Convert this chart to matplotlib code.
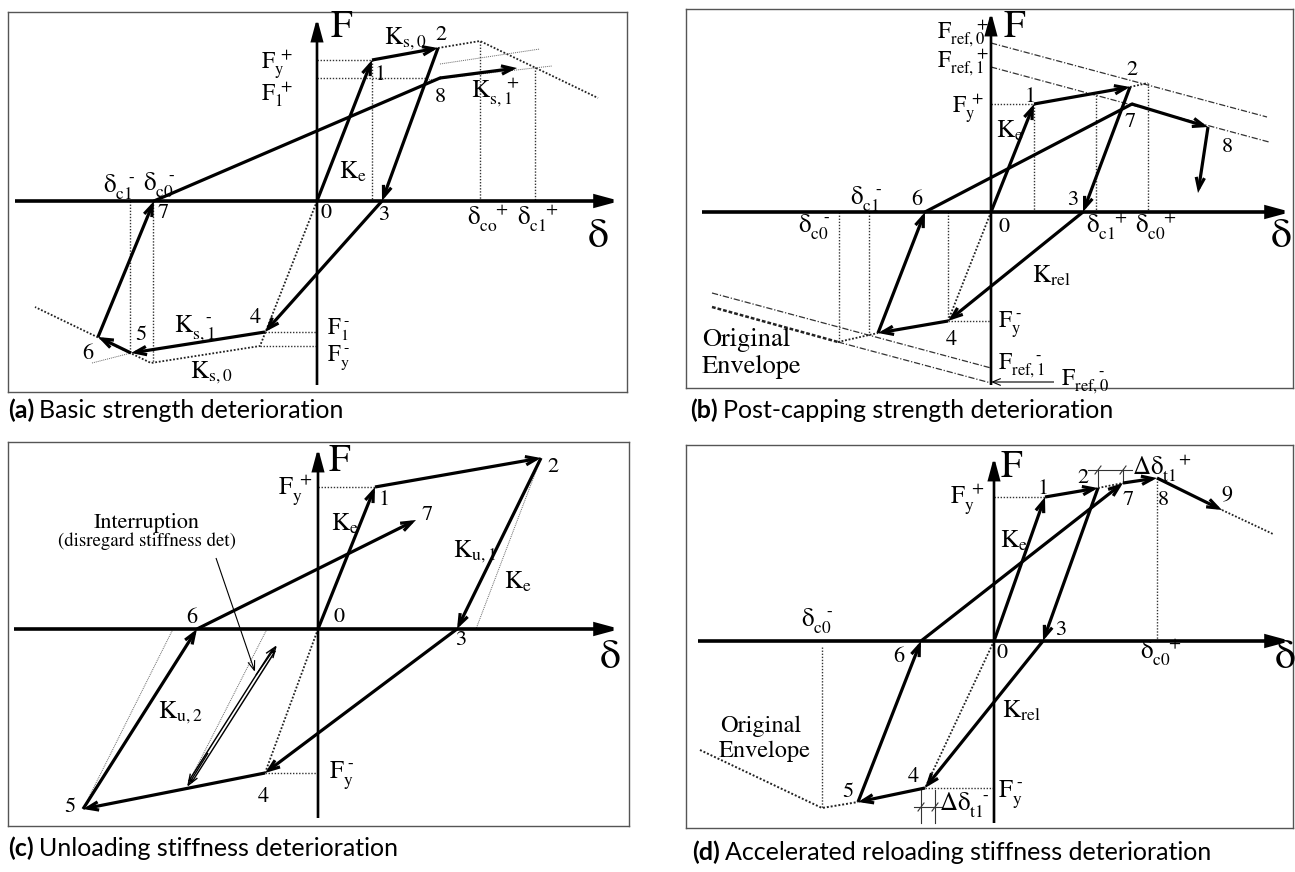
import matplotlib
matplotlib.use('Agg')
import matplotlib.pyplot as plt

W, H = 1295, 872
plt.rcParams['mathtext.fontset'] = 'stix'
plt.rcParams['font.family'] = 'STIXGeneral'

# ---------------- data (drawing units relative to the axes origin) ----------------
# Panel (a) basic strength deterioration
a_path_d = [0, 55, 121, 65, -52, -186, -219, -163, 123, 200]
a_path_F = [0, 141, 153, 0, -131, -152, -136, 0, 123, 133]
a_arrow = [1, 1, 1, 1, 1, 1, 1, 0, 1]
a_envp_d = [121, 163, 281]
a_envp_F = [153, 160, 103]
a_envn_d = [0, -57, -166, -282]
a_envn_F = [0, -145, -162, -106]

# Panel (b) post-capping strength deterioration
b_path_d = [0, 43, 139, 92, -43, -113, -66, 141, 217, 207]
b_path_F = [0, 108, 125, 0, -109, -121, 0, 108, 85, 19]
b_arrow = [1, 1, 1, 1, 1, 1, 0, 1, 1]
b_ref0p_d, b_ref0p_F = [0, 276], [169, 95]
b_ref1p_d, b_ref1p_F = [0, 278], [145, 70]
b_ref1n_d, b_ref1n_F = [-279, 0], [-81, -156]
b_ref0n_d, b_ref0n_F = [-153, 0], [-130, -171]
b_orig_d, b_orig_F = [-279, -153], [-95, -130]

# Panel (c) unloading stiffness deterioration
c_path_d = [0, 57, 223, 139, -53, -235, -121, 98]
c_path_F = [0, 142, 171, 0, -144, -180, 0, 109]
c_arrow = [1, 1, 1, 1, 1, 1, 1]

# Panel (d) accelerated reloading stiffness deterioration
d_path_d = [0, 51, 104, 49, -69, -136, -73, 129, 163, 228]
d_path_F = [0, 144, 153, 0, -147, -161, 0, 158, 163, 131]
d_arrow = [1, 1, 1, 1, 1, 1, 1, 1, 1]
d_envn_d = [-294, -172, -136]
d_envn_F = [-109, -167, -161]

M = '\u2010'  # short hyphen used as superscript minus

DOT = dict(color='#333', lw=1.0, ls=(0, (1, 1.2)))
THIN = dict(color='#666', lw=0.7, ls=(0, (1, 1)))
DD = dict(color='#333', lw=0.9, ls=(0, (5, 1.5, 1, 1.5)))

fig = plt.figure(figsize=(W / 100, H / 100), dpi=100)


def make_ax(box, origin):
    x0, y0, x1, y1 = box
    ox, oy = origin
    ax = fig.add_axes([x0 / W, 1 - y1 / H, (x1 - x0) / W, (y1 - y0) / H])
    ax.set_xlim(x0 - ox, x1 - ox)
    ax.set_ylim(oy - y1, oy - y0)
    ax.set_xticks([])
    ax.set_yticks([])
    for s in ax.spines.values():
        s.set_color('#555')
        s.set_linewidth(1.0)
    return ax


def arrow(ax, p, q, lw=2.3, hl=0.8, hw=0.3, style='->'):
    ax.annotate('', xy=q, xytext=p, annotation_clip=False,
                arrowprops=dict(arrowstyle=f'{style},head_length={hl},head_width={hw}',
                                lw=lw, color='k', shrinkA=0, shrinkB=0,
                                joinstyle='miter', capstyle='butt'))


def path(ax, ds, Fs, arrows):
    for i in range(len(ds) - 1):
        p, q = (ds[i], Fs[i]), (ds[i + 1], Fs[i + 1])
        if arrows[i]:
            arrow(ax, p, q)
        else:
            ax.plot([p[0], q[0]], [p[1], q[1]], color='k', lw=2.3, solid_capstyle='round')


def axes_arrows(ax, dmin, dmax, Fmin, Fmax):
    arrow(ax, (dmin, 0), (dmax, 0), lw=2.6, hl=1.3, hw=0.35, style='-|>')
    arrow(ax, (0, Fmin), (0, Fmax), lw=1.9, hl=1.3, hw=0.35, style='-|>')


def seg(ax, p, q, **kw):
    ax.plot([p[0], q[0]], [p[1], q[1]], **kw)


def labels(ax, items):
    for x, y, s, size, ha, va in items:
        ax.text(x, y, s, fontsize=size, ha=ha, va=va, color='k')


L = 18   # size of subscripted labels
N = 16   # size of point numbers

# ---------------- panel (a) ----------------
ax = make_ax((8, 12, 627, 392), (317, 201))
seg(ax, (0, 141), (55, 141), **DOT)
seg(ax, (55, 141), (55, 0), **DOT)
seg(ax, (0, 123), (110, 123), **DOT)
ax.plot(a_envp_d, a_envp_F, color='#222', lw=1.3, ls=(0, (1, 1)))
ax.plot(a_envn_d, a_envn_F, color='#222', lw=1.3, ls=(0, (1, 1)))
seg(ax, (163, 160), (163, 0), **DOT)
seg(ax, (218, 134), (218, 0), **DOT)
seg(ax, (123, 137), (223, 152), **THIN)
seg(ax, (110, 121), (235, 135), **THIN)
seg(ax, (-225, -162), (-186, -152), **THIN)
seg(ax, (-187, 0), (-187, -151), **DOT)
seg(ax, (-164, 0), (-164, -162), **DOT)
seg(ax, (-52, -131), (0, -131), **DOT)
seg(ax, (-57, -145), (0, -145), **DOT)
axes_arrows(ax, -302, 303, -184, 183)
path(ax, a_path_d, a_path_F, a_arrow)
labels(ax, [
    (14, 173, 'F', 28, 'left', 'center'),
    (281, -36, r'$\mathrm{\delta}$', 30, 'center', 'center'),
    (-24, 132, r'$\mathrm{F_y^{\ +}}$', 17, 'right', 'baseline'),
    (-24, 101, r'$\mathrm{F_1^{\ +}}$', 17, 'right', 'baseline'),
    (67, 157, r'$\mathrm{K_{s,0}}$', L, 'left', 'baseline'),
    (63, 126, '1', N, 'center', 'center'),
    (124, 166, '2', N, 'center', 'center'),
    (123, 104, '8', N, 'center', 'center'),
    (154, 104, r'$\mathrm{K_{s,1}^{\quad\,+}}$', L, 'left', 'baseline'),
    (22, 23, r'$\mathrm{K_e}$', L, 'left', 'baseline'),
    (-214, 8, r'$\mathrm{\delta_{c1}^{\quad ' + M + '}}$', L, 'left', 'baseline'),
    (-174, 10, r'$\mathrm{\delta_{c0}^{\quad ' + M + '}}$', L, 'left', 'baseline'),
    (-154, -12, '7', N, 'center', 'center'),
    (9, -12, '0', N, 'center', 'center'),
    (67, -14, '3', N, 'center', 'center'),
    (150, -24, r'$\mathrm{\delta_{co}^{\quad +}}$', L, 'left', 'baseline'),
    (200, -24, r'$\mathrm{\delta_{c1}^{\quad +}}$', L, 'left', 'baseline'),
    (-62, -117, '4', N, 'center', 'center'),
    (-176, -134, '5', N, 'center', 'center'),
    (-229, -153, '6', N, 'center', 'center'),
    (-143, -131, r'$\mathrm{K_{s,1}^{\quad ' + M + '}}$', L, 'left', 'baseline'),
    (-127, -177, r'$\mathrm{K_{s,0}}$', L, 'left', 'baseline'),
    (10, -133, r'$\mathrm{F_1^{\ ' + M + '}}$', 16.5, 'left', 'baseline'),
    (10, -160, r'$\mathrm{F_y^{\ ' + M + '}}$', 16.5, 'left', 'baseline'),
])

# ---------------- panel (b) ----------------
ax = make_ax((686, 9, 1293, 388), (991, 212))
ax.plot(b_ref0p_d, b_ref0p_F, **DD)
ax.plot(b_ref1p_d, b_ref1p_F, **DD)
ax.plot(b_ref1n_d, b_ref1n_F, **DD)
ax.plot(b_ref0n_d, b_ref0n_F, **DD)
ax.plot(b_orig_d, b_orig_F, color='#222', lw=1.8, ls=(0, (1.5, 0.8)))
seg(ax, (-153, -130), (-113, -121), color='#222', lw=1.3, ls=(0, (1, 1)))
seg(ax, (139, 125), (157, 129), color='#222', lw=1.3, ls=(0, (1, 1)))
seg(ax, (0, 108), (43, 108), **DOT)
seg(ax, (43, 108), (43, 0), **DOT)
seg(ax, (105, 117), (105, 0), **DOT)
seg(ax, (157, 129), (157, 0), **DOT)
seg(ax, (-152, 0), (-152, -130), **DOT)
seg(ax, (-122, 0), (-122, -123), **DOT)
seg(ax, (-43, 0), (-43, -109), **DOT)
seg(ax, (-43, -109), (0, -109), **DOT)
seg(ax, (0, 0), (-43, -109), color='#222', lw=1.3, ls=(0, (1, 1)))
axes_arrows(ax, -289, 300, -173, 200)
path(ax, b_path_d, b_path_F, b_arrow)
arrow(ax, (63, -170), (0, -170), lw=0.8, hl=0.6, hw=0.25)
labels(ax, [
    (13, 184, 'F', 28, 'left', 'center'),
    (290, -25, r'$\mathrm{\delta}$', 30, 'center', 'center'),
    (-2, 174, r'$\mathrm{F_{ref,0}^{\quad\quad +}}$', 17, 'right', 'baseline'),
    (-2, 145, r'$\mathrm{F_{ref,1}^{\quad\quad +}}$', 17, 'right', 'baseline'),
    (-7, 99, r'$\mathrm{F_y^{\ +}}$', 17, 'right', 'baseline'),
    (39, 115, '1', N, 'center', 'center'),
    (5, 75, r'$\mathrm{K_e}$', L, 'left', 'baseline'),
    (141, 142, '2', N, 'center', 'center'),
    (139, 90, '7', N, 'center', 'center'),
    (236, 65, '8', N, 'center', 'center'),
    (82, 12, '3', N, 'center', 'center'),
    (-74, 12, '6', N, 'center', 'center'),
    (-141, 7, r'$\mathrm{\delta_{c1}^{\quad ' + M + '}}$', L, 'left', 'baseline'),
    (-193, -21, r'$\mathrm{\delta_{c0}^{\quad ' + M + '}}$', L, 'left', 'baseline'),
    (13, -15, '0', N, 'center', 'center'),
    (95, -21, r'$\mathrm{\delta_{c1}^{\quad +}}$', L, 'left', 'baseline'),
    (144, -21, r'$\mathrm{\delta_{c0}^{\quad +}}$', L, 'left', 'baseline'),
    (41, -70, r'$\mathrm{K_{rel}}$', L, 'left', 'baseline'),
    (7, -116, r'$\mathrm{F_y^{\ ' + M + '}}$', 17, 'left', 'baseline'),
    (-40, -128, '4', N, 'center', 'center'),
    (7, -157, r'$\mathrm{F_{ref,1}^{\quad\quad ' + M + '}}$', 17, 'left', 'baseline'),
    (70, -173, r'$\mathrm{F_{ref,0}^{\quad\quad ' + M + '}}$', 17, 'left', 'baseline'),
    (-289, -128, 'Original', 19, 'left', 'center'),
    (-289, -155, 'Envelope', 19, 'left', 'center'),
])

# ---------------- panel (c) ----------------
ax = make_ax((8, 442, 629, 826), (318, 629))
seg(ax, (0, 142), (57, 142), **DOT)
seg(ax, (-53, -144), (0, -144), **DOT)
seg(ax, (0, 0), (-53, -144), color='#222', lw=1.3, ls=(0, (1, 1)))
seg(ax, (223, 171), (158, 0), **THIN)
seg(ax, (-235, -180), (-145, 0), **THIN)
seg(ax, (-51, 0), (-128, -151), **THIN)
axes_arrows(ax, -304, 302, -189, 181)
path(ax, c_path_d, c_path_F, c_arrow)
# interruption double arrow (hollow)
ax.plot([-128, -44], [-153, -21], color='k', lw=3.4, solid_capstyle='butt')
ax.plot([-126, -46], [-150, -24], color='white', lw=1.3, solid_capstyle='butt')
arrow(ax, (-110, -124), (-131, -158), lw=1.0, hl=0.8, hw=0.3)
arrow(ax, (-62, -46), (-41, -16), lw=1.0, hl=0.8, hw=0.3)
arrow(ax, (-102, 71), (-63, -43), lw=0.8, hl=0.7, hw=0.25)
labels(ax, [
    (11, 167, 'F', 28, 'left', 'center'),
    (292, -29, r'$\mathrm{\delta}$', 30, 'center', 'center'),
    (-6, 134, r'$\mathrm{F_y^{\ +}}$', L, 'right', 'baseline'),
    (66, 129, '1', N, 'center', 'center'),
    (235, 162, '2', N, 'center', 'center'),
    (109, 114, '7', N, 'center', 'center'),
    (13, 99, r'$\mathrm{K_e}$', L, 'left', 'baseline'),
    (-171, 106, 'Interruption', 16, 'center', 'center'),
    (-171, 88, '(disregard stiffness det)', 13.5, 'center', 'center'),
    (135, 72, r'$\mathrm{K_{u,1}}$', L, 'left', 'baseline'),
    (186, 41, r'$\mathrm{K_e}$', L, 'left', 'baseline'),
    (21, 12, '0', N, 'center', 'center'),
    (-126, 11, '6', N, 'center', 'center'),
    (143, -11, '3', N, 'center', 'center'),
    (11, -149, r'$\mathrm{F_y^{\ ' + M + '}}$', L, 'left', 'baseline'),
    (-55, -168, '4', N, 'center', 'center'),
    (-248, -178, '5', N, 'center', 'center'),
    (-160, -89, r'$\mathrm{K_{u,2}}$', L, 'left', 'baseline'),
])

# ---------------- panel (d) ----------------
ax = make_ax((686, 445, 1293, 828), (994, 641))
seg(ax, (0, 144), (51, 144), **DOT)
seg(ax, (-69, -147), (0, -147), **DOT)
seg(ax, (0, 0), (-69, -147), color='#222', lw=1.3, ls=(0, (1, 1)))
seg(ax, (104, 153), (129, 158), color='#222', lw=1.3, ls=(0, (1, 1)))
seg(ax, (228, 131), (279, 107), color='#222', lw=1.3, ls=(0, (1, 1)))
ax.plot(d_envn_d, d_envn_F, color='#222', lw=1.4, ls=(0, (1, 1)))
seg(ax, (-172, -6), (-172, -167), **DOT)
seg(ax, (163, 163), (163, 0), **DOT)
# dimension marks
for x, ytop, ybot in [(104, 172, 153), (129, 172, 158)]:
    seg(ax, (x, ytop), (x, ybot), color='#333', lw=0.8)
    seg(ax, (x - 3, 167), (x + 3, 175), color='#333', lw=0.8)
seg(ax, (94, 171), (138, 171), color='#333', lw=0.8)
for x in (-73, -59):
    seg(ax, (x, -149), (x, -182), color='#333', lw=0.8)
    seg(ax, (x - 3, -170), (x + 3, -162), color='#333', lw=0.8)
seg(ax, (-80, -166), (-52, -166), color='#333', lw=0.8)
axes_arrows(ax, -296, 297, -182, 184)
path(ax, d_path_d, d_path_F, d_arrow)
labels(ax, [
    (7, 173, 'F', 28, 'left', 'center'),
    (291, -17, r'$\mathrm{\delta}$', 30, 'center', 'center'),
    (-10, 137, r'$\mathrm{F_y^{\ +}}$', L, 'right', 'baseline'),
    (49, 152, '1', N, 'center', 'center'),
    (89, 163, '2', N, 'center', 'center'),
    (138, 166, r'$\mathrm{\Delta\delta_{t1}^{\quad +}}$', L, 'left', 'baseline'),
    (134, 141, '7', N, 'center', 'center'),
    (169, 141, '8', N, 'center', 'center'),
    (233, 146, '9', N, 'center', 'center'),
    (6, 94, r'$\mathrm{K_e}$', L, 'left', 'baseline'),
    (67, 11, '3', N, 'center', 'center'),
    (-193, 14, r'$\mathrm{\delta_{c0}^{\quad ' + M + '}}$', L, 'left', 'baseline'),
    (8, -12, '0', N, 'center', 'center'),
    (-95, -16, '6', N, 'center', 'center'),
    (146, -18, r'$\mathrm{\delta_{c0}^{\quad +}}$', L, 'left', 'baseline'),
    (8, -76, r'$\mathrm{K_{rel}}$', L, 'left', 'baseline'),
    (-233, -85, 'Original', 17.5, 'center', 'center'),
    (-229, -110, 'Envelope', 17.5, 'center', 'center'),
    (-81, -136, '4', N, 'center', 'center'),
    (-146, -151, '5', N, 'center', 'center'),
    (4, -156, r'$\mathrm{F_y^{\ ' + M + '}}$', L, 'left', 'baseline'),
    (-55, -170, r'$\mathrm{\Delta\delta_{t1}^{\quad ' + M + '}}$', L, 'left', 'baseline'),
])

# ---------------- captions ----------------
captions = [
    (8, 410, '(a)', 'Basic strength deterioration'),
    (690, 410, '(b)', 'Post-capping strength deterioration'),
    (8, 848, '(c)', 'Unloading stiffness deterioration'),
    (692, 852, '(d)', 'Accelerated reloading stiffness deterioration'),
]
renderer = fig.canvas.get_renderer()
for x, y, tag, txt in captions:
    t = fig.text(x / W, 1 - y / H, tag, fontfamily='Lato', fontweight='bold',
                 fontsize=18, ha='left', va='center')
    bb = t.get_window_extent(renderer=renderer)
    fig.text((bb.x1 + 5) / W, 1 - y / H, txt, fontfamily='Lato', fontsize=18,
             ha='left', va='center')

fig.savefig('out.png', dpi=100)
